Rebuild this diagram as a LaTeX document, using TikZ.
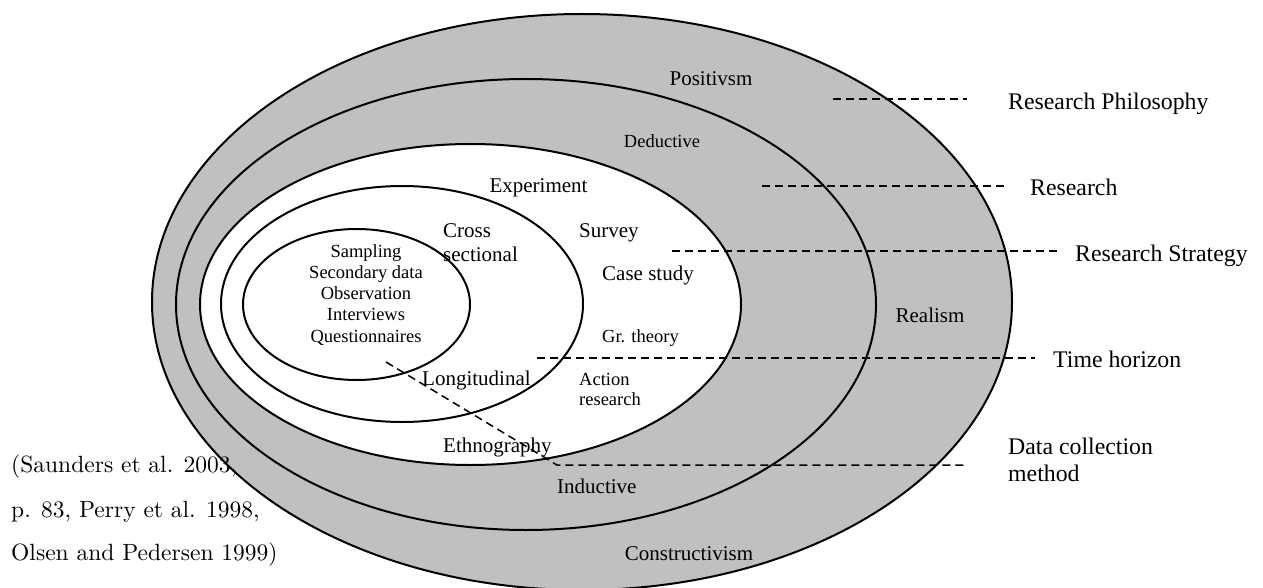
\documentclass[tikz,border=0pt]{standalone}
\usepackage{fontspec}
\setmainfont{Liberation Serif}
% the source note uses an old-style roman at its text design size
\newfontfamily\citefont[Extension=.otf]{lmroman10-regular}
\definecolor{ringgrey}{RGB}{192,192,192}
\begin{document}
\begin{tikzpicture}[x=1pt,y=-1pt,
  ring/.style={draw=black,line width=2pt},
  band/.style={ring,fill=ringgrey},
  core/.style={ring,fill=white},
  guide/.style={draw=black,line width=1.5pt,dash pattern=on 8pt off 5pt},
  txt/.style={inner sep=0pt,font=\fontsize{21}{25}\selectfont},
  small/.style={inner sep=0pt,font=\fontsize{18.5}{22}\selectfont},
  side/.style={inner sep=0pt,anchor=base west,font=\fontsize{23.8}{28}\selectfont},
  cite/.style={inner sep=0pt,anchor=base west,font=\citefont\fontsize{23.5}{28}\selectfont}]
\useasboundingbox (0,0) rectangle (1263,588);
\clip (0,0) rectangle (1263,588);

% the layers of the onion, outermost first
\path[band] (582,302) ellipse [x radius=430, y radius=288];
\path[band] (526,304.5) ellipse [x radius=350, y radius=225.5];
\path[core] (470.5,304.5) ellipse [x radius=270.5, y radius=160.5];
\path[core] (402,304) ellipse [x radius=181, y radius=118];
\path[core] (356.5,304.5) ellipse [x radius=113.5, y radius=75.5];

% philosophies
\node[txt,anchor=base] (pos) at (711,86) {Positivsm};
\node[txt,anchor=base] (real) at (930,322) {Realism};
\node[txt,anchor=base] (cons) at (689,560) {Constructivism};

% approaches
\node[small,anchor=base] (ded) at (662,148) {Deductive};
\node[txt,anchor=base west] (ind) at (557,493) {Inductive};

% strategies
\node[txt,anchor=base] (exp) at (538.5,193) {Experiment};
\node[txt,anchor=base west] (surv) at (579,237) {Survey};
\node[txt,anchor=base west] (case) at (602,280) {Case study};
\node[small,anchor=base west] (grt) at (602,342) {Gr. theory};
\node[small,anchor=base west] (act1) at (579,385) {Action};
\node[small,anchor=base west] (act2) at (579,405) {research};
\node[txt,anchor=base west] (eth) at (443,452) {Ethnography};

% time horizons
\node[txt,anchor=base west] (cross1) at (443,237) {Cross};
\node[txt,anchor=base west] (cross2) at (443,261) {sectional};
\node[txt,anchor=base west] (long) at (422,385) {Longitudinal};

% data collection methods
\node[small,anchor=base] (m1) at (366,257) {Sampling};
\node[small,anchor=base] (m2) at (366,278) {Secondary data};
\node[small,anchor=base] (m3) at (366,299) {Observation};
\node[small,anchor=base] (m4) at (366,320) {Interviews};
\node[small,anchor=base] (m5) at (366,342) {Questionnaires};

% layer names on the right
\node[side] (lphil) at (1008,110) {Research Philosophy};
\node[side] (lres) at (1030,196) {Research};
\node[side] (lstrat) at (1075,261) {Research Strategy};
\node[side] (ltime) at (1053,367) {Time horizon};
\node[side] (ldata1) at (1008,454) {Data collection};
\node[side] (ldata2) at (1008,481) {method};

% source
\node[cite] (c1) at (11,472) {(Saunders et al. 2003,};
\node[cite] (c2) at (11,517) {p. 83, Perry et al. 1998,};
\node[cite] (c3) at (11,560) {Olsen and Pedersen 1999)};

% leader lines
\coordinate (phA) at (833,99);  \coordinate (phB) at (967,99);
\coordinate (reA) at (762,186); \coordinate (reB) at (1008,186);
\coordinate (stA) at (672,251); \coordinate (stB) at (1057,251);
\coordinate (thA) at (537,358); \coordinate (thB) at (1035,358);
\coordinate (dcA) at (386,362); \coordinate (dcK) at (557,465); \coordinate (dcB) at (967,465);
\draw[guide] (phA) -- (phB);
\draw[guide] (reA) -- (reB);
\draw[guide] (stA) -- (stB);
\draw[guide] (thA) -- (thB);
\draw[guide] (dcA) -- (dcK) -- (dcB);
\end{tikzpicture}
\end{document}
